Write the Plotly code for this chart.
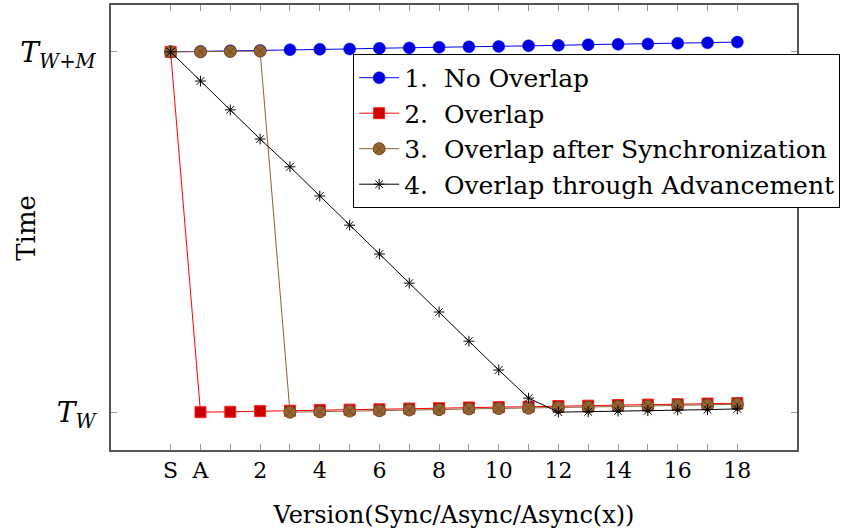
import plotly.graph_objects as go

x_pos = list(range(-1, 19))
tick_text = ["S", "A", "", "2", "", "4", "", "6", "", "8", "", "10", "", "12", "", "14", "", "16", "", "18"]

no_overlap = [1.000, 1.001, 1.003, 1.004, 1.006, 1.007, 1.008, 1.010, 1.011, 1.013,
              1.014, 1.015, 1.017, 1.018, 1.020, 1.021, 1.022, 1.024, 1.025, 1.027]
overlap = [1.000, 0.000, 0.001, 0.003, 0.004, 0.006, 0.007, 0.008, 0.010, 0.011,
           0.013, 0.014, 0.015, 0.017, 0.018, 0.020, 0.021, 0.022, 0.024, 0.025]
overlap_sync = [1.000, 1.000, 1.001, 1.002, 0.000, 0.001, 0.003, 0.004, 0.006, 0.007,
                0.009, 0.010, 0.011, 0.013, 0.014, 0.016, 0.017, 0.019, 0.020, 0.022]
overlap_adv = [1.000, 0.919, 0.839, 0.758, 0.681, 0.600, 0.519, 0.439, 0.358, 0.278,
               0.197, 0.117, 0.039, 0.000, 0.001, 0.003, 0.004, 0.006, 0.007, 0.009]

y_tickvals = [0, 1]
y_ticktext = ["<i>T</i><sub><i>W</i></sub>", "<i>T</i><sub><i>W+M</i></sub>"]

FONT = "DejaVu Serif, serif"

fig = go.Figure()
fig.add_trace(go.Scatter(x=x_pos, y=no_overlap, mode="lines+markers", name="1.  No Overlap",
                         line=dict(color="#0000ff", width=1),
                         marker=dict(symbol="circle", size=12, color="#0000e0",
                                     line=dict(color="#0000ff", width=0.5))))
fig.add_trace(go.Scatter(x=x_pos, y=overlap, mode="lines+markers", name="2.  Overlap",
                         line=dict(color="#ff0000", width=1),
                         marker=dict(symbol="square", size=11, color="#cc0000",
                                     line=dict(color="#ff2020", width=1))))
fig.add_trace(go.Scatter(x=x_pos, y=overlap_sync, mode="lines+markers",
                         name="3.  Overlap after Synchronization",
                         line=dict(color="#8a6038", width=1),
                         marker=dict(symbol="circle-x", size=12, color="#98642f",
                                     line=dict(color="#6e4a28", width=1))))
fig.add_trace(go.Scatter(x=x_pos, y=overlap_adv, mode="lines+markers",
                         name="4.  Overlap through Advancement",
                         line=dict(color="#000000", width=1),
                         marker=dict(symbol="asterisk-open", size=9,
                                     line=dict(color="#000000", width=1))))

fig.update_layout(
    width=845, height=532,
    margin=dict(l=111, r=45, t=5, b=82),
    paper_bgcolor="white", plot_bgcolor="white",
    font=dict(family=FONT, size=22, color="black"),
    showlegend=True,
    legend=dict(x=0.353, y=0.89, xanchor="left", yanchor="top",
                bgcolor="white", bordercolor="black", borderwidth=1,
                font=dict(family=FONT, size=25), tracegroupgap=0,
                itemwidth=40),
    xaxis=dict(range=[-3, 20], tickmode="array", tickvals=x_pos, ticktext=tick_text,
               ticks="inside", ticklen=6, tickcolor="#999999", showgrid=False, zeroline=False,
               showline=True, linecolor="#555555", linewidth=1.5, mirror="allticks",
               tickfont=dict(family=FONT, size=22), automargin=False,
               title=dict(text="Version(Sync/Async/Async(x))", font=dict(family=FONT, size=24),
                          standoff=24)),
    yaxis=dict(range=[-0.105, 1.13], tickmode="array", tickvals=y_tickvals, ticktext=y_ticktext,
               ticks="inside", ticklen=6, tickcolor="#999999", showgrid=False, zeroline=False,
               showline=True, linecolor="#555555", linewidth=1.5, mirror="allticks",
               tickfont=dict(family=FONT, size=28), ticklabelstandoff=8, automargin=False),
    annotations=[dict(text="Time", xref="paper", yref="paper", x=-0.125, y=0.5,
                      xanchor="center", yanchor="middle", textangle=-90, showarrow=False,
                      font=dict(family=FONT, size=26))],
)

fig.write_html("out.html")
